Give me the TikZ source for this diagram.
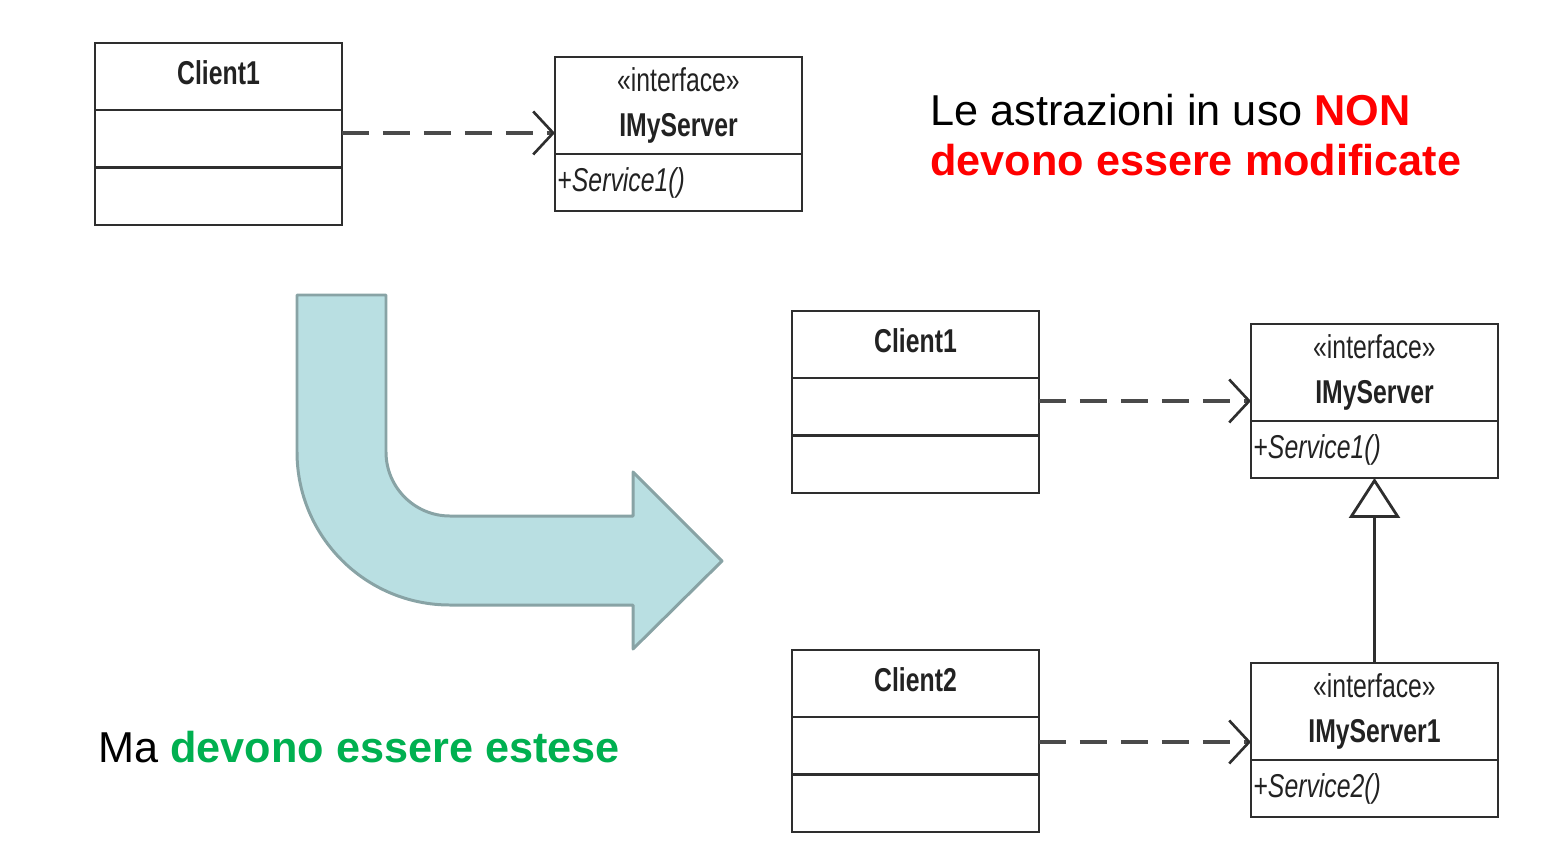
\documentclass[tikz,border=0pt]{standalone}
\usepackage{fontspec}
\setmainfont{Liberation Sans}
\newfontfamily\umlfont[FakeStretch=0.75]{Liberation Sans}
\usetikzlibrary{arrows.meta,positioning}
\definecolor{umlline}{HTML}{2E2E2E}
\definecolor{umltext}{HTML}{222222}
\definecolor{depgray}{HTML}{4A4A4A}
\definecolor{bendfill}{HTML}{B9DFE2}
\definecolor{bendline}{HTML}{88A3A5}
\definecolor{nonred}{HTML}{FF0000}
\definecolor{extgreen}{HTML}{00B050}

\tikzset{
  umlbox/.style={draw=umlline, line width=1.6pt, minimum width=4.94cm,
    outer sep=0pt, inner sep=0pt, text=umltext,
    font=\umlfont\fontsize{18.8}{25.6}\selectfont},
  classhead/.style={umlbox, minimum height=1.34cm, text depth=0.14cm,
    font=\umlfont\bfseries\fontsize{18.8}{21}\selectfont},
  compart/.style={umlbox, minimum height=1.15cm},
  ifhead/.style={umlbox, minimum height=1.94cm, align=center},
  ifops/.style={umlbox, minimum height=1.14cm, text width=4.84cm,
    inner xsep=0.05cm, align=left},
  dep/.style={draw=depgray, line width=2pt, dash pattern=on 0.54cm off 0.28cm,
    -{Straight Barb[length=0.4cm, width=0.86cm, line width=1.5pt, umlline]}},
  gen/.style={draw=umlline, line width=1.6pt,
    -{Triangle[open, length=0.8cm, width=1.02cm, fill=white]}},
  bendarrow/.style={draw=bendline, fill=bendfill, line width=1.7pt, line join=round},
  bigtext/.style={inner sep=0pt, anchor=base west,
    font=\fontsize{24.6}{29}\selectfont}
}

\begin{document}
\begin{tikzpicture}[x=0.02cm, y=-0.02cm]
  \useasboundingbox (0,0) rectangle (1561,842);

  % before: one client, one interface
  \node[classhead, anchor=north west] (cla) at (95,43) {Client1};
  \node[compart, below=0pt of cla] (claattr) {};
  \node[compart, below=0pt of claattr] (clamet) {};

  \node[ifhead, anchor=north west] (srva) at (555,57) {«interface»\\\textbf{IMyServer}};
  \node[ifops, below=0pt of srva] (srvaops) {+\textit{Service1()}};

  \draw[dep] ([yshift=-0.46cm]claattr.north east) -- ([yshift=-0.46cm]claattr.north east -| srva.west);

  % bent arrow
  \draw[bendarrow] (297,295) -- (386,295) -- (386,452)
     arc[start angle=180, end angle=90, radius=64] -- (633,516) -- (633,472)
     -- (722,561) -- (633,649) -- (633,605) -- (450,605)
     arc[start angle=90, end angle=180, radius=153] -- cycle;

  % after: interface extended
  \node[classhead, anchor=north west] (clb) at (792,311) {Client1};
  \node[compart, below=0pt of clb] (clbattr) {};
  \node[compart, below=0pt of clbattr] (clbmet) {};

  \node[ifhead, anchor=north west] (srvb) at (1251,324) {«interface»\\\textbf{IMyServer}};
  \node[ifops, below=0pt of srvb] (srvbops) {+\textit{Service1()}};

  \node[classhead, anchor=north west] (clc) at (792,650) {Client2};
  \node[compart, below=0pt of clc] (clcattr) {};
  \node[compart, below=0pt of clcattr] (clcmet) {};

  \node[ifhead, anchor=north west] (srvc) at (1251,663) {«interface»\\\textbf{IMyServer1}};
  \node[ifops, below=0pt of srvc] (srvcops) {+\textit{Service2()}};

  \draw[dep] ([yshift=-0.46cm]clbattr.north east) -- ([yshift=-0.46cm]clbattr.north east -| srvb.west);
  \draw[dep] ([yshift=-0.5cm]clcattr.north east) -- ([yshift=-0.5cm]clcattr.north east -| srvc.west);
  \draw[gen] (srvc.north) -- (srvbops.south);

  % remarks
  \node[bigtext] (rule1) at (930,125) {Le astrazioni in uso \textcolor{nonred}{\bfseries NON}};
  \node[bigtext, text=nonred] (rule2) at (930,175) {\bfseries devono essere modificate};
  \node[bigtext] (extend) at (98,762) {Ma \textcolor{extgreen}{\bfseries devono essere estese}};
\end{tikzpicture}
\end{document}
